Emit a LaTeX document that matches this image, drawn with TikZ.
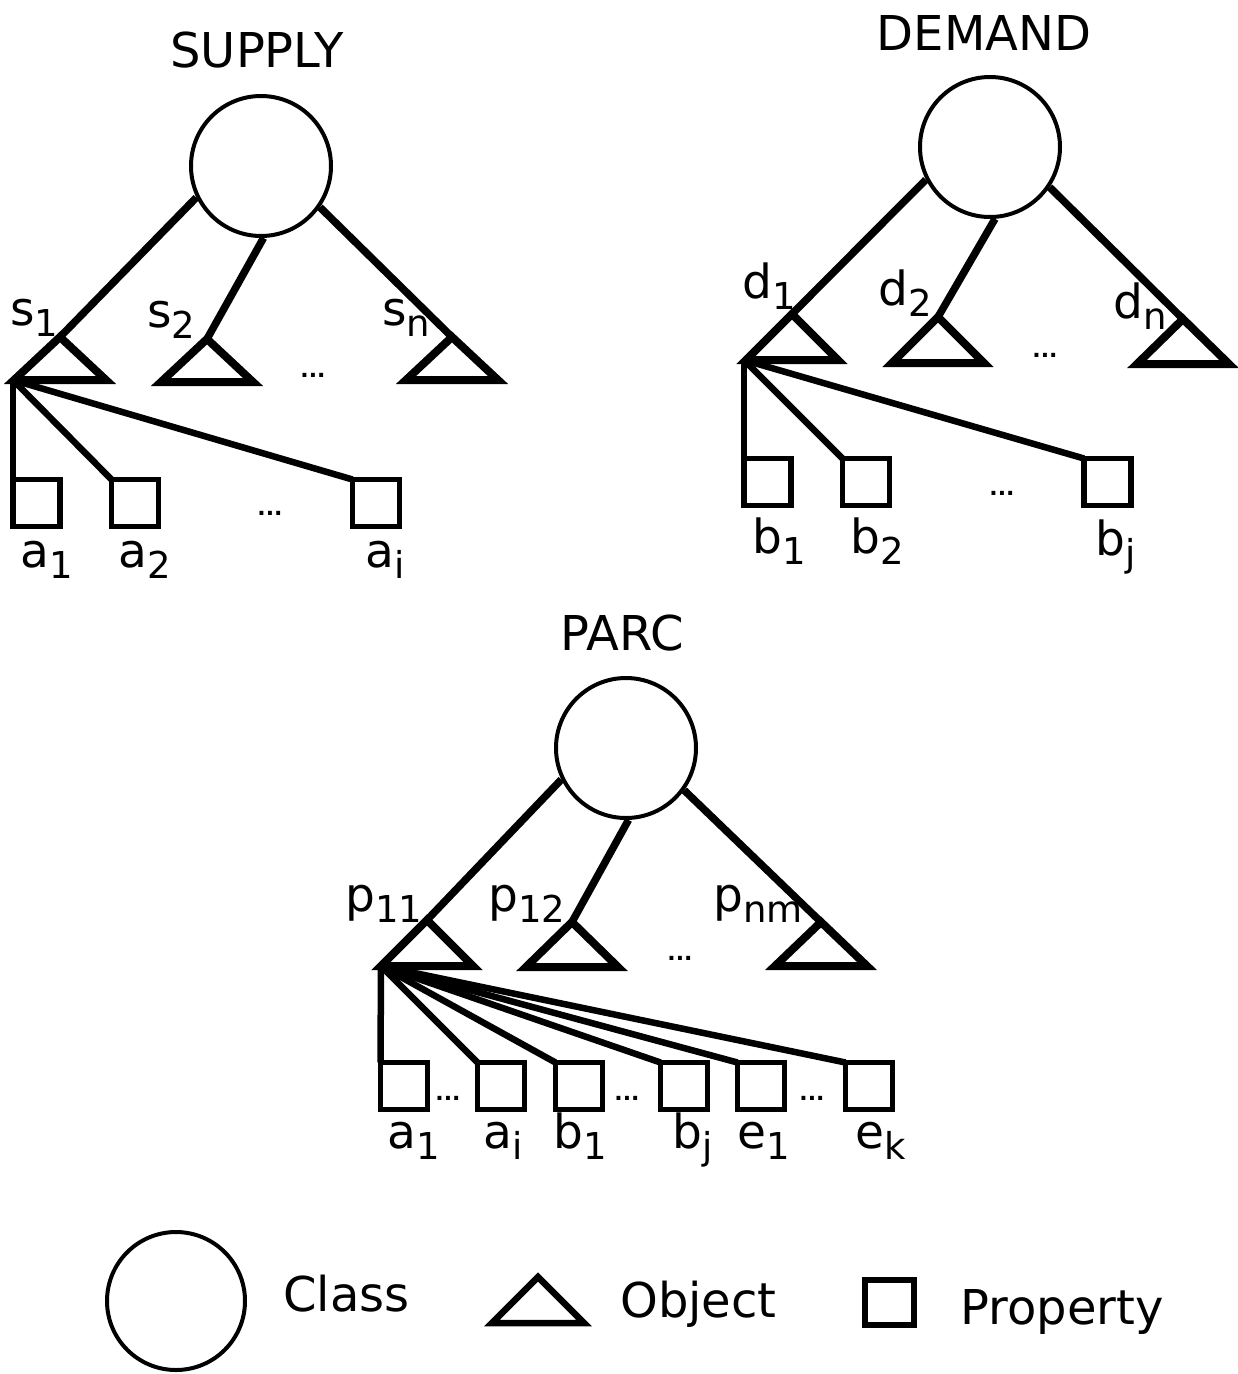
\documentclass[tikz,border=0pt]{standalone}
\usepackage{fontspec}
\setmainfont{DejaVu Sans}
\usepackage{tikz}
\tikzset{every picture/.style={line width=0.75pt}}
\newcommand{\sbs}[1]{\raisebox{-11pt}{\fontsize{37}{37}\selectfont #1}}

\begin{document}
\begin{tikzpicture}[x=1pt, y=-1pt,
        cls/.style={draw, circle, line width=4pt, minimum size=140pt, inner sep=0pt},
        prop/.style={draw, rectangle, line width=5.5pt, minimum size=47pt, inner sep=0pt, outer sep=0pt},
        tri/.style={line width=8pt},
        conn/.style={line width=7.5pt},
        fan/.style={line width=6.5pt},
        lbl/.style={anchor=base west, inner sep=0pt, font=\fontsize{47}{56}\selectfont},
        ttl/.style={anchor=base, inner sep=0pt, font=\fontsize{48}{58}\selectfont},
        ellip/.style={inner sep=0pt, font=\fontsize{22}{22}\selectfont\bfseries}]
        \useasboundingbox (0,0) rectangle (1238,1374);

        % supply
        \node[ttl] (supt) at (257,67) {SUPPLY};
        \node[cls] (sup) at (261,166) {};
        \coordinate (s1) at (60,337);
        \coordinate (s2) at (207,339);
        \coordinate (sn) at (452,337);
        \coordinate (s1f) at (13,380);
        \draw[tri] (s1) -- ++(46,43) -- ++(-92,0) -- cycle;
        \draw[tri] (s2) -- ++(46,43) -- ++(-92,0) -- cycle;
        \draw[tri] (sn) -- ++(46,43) -- ++(-92,0) -- cycle;
        \node[lbl] (s1l) at (10,325) {s\sbs{1}};
        \node[lbl] (s2l) at (147,327) {s\sbs{2}};
        \node[lbl] (snl) at (382,325) {s\sbs{n}};
        \node[ellip] (sdo) at (313,375) {...};
        \node[prop] (a1) at (36.5,503) {};
        \node[prop] (a2) at (135,503) {};
        \node[prop] (ai) at (376,503) {};
        \node[ellip] (sdp) at (270,513) {...};
        \node[lbl] (a1l) at (20,567) {a\sbs{1}};
        \node[lbl] (a2l) at (118,567) {a\sbs{2}};
        \node[lbl] (ail) at (365,567) {a\sbs{i}};

        \draw[conn]
            (sup.206) edge (s1)
            (sup.272) edge (s2)
            (sup.325) edge (sn)
            ;
        \draw[fan]
            (s1f) edge (a1.north west)
            (s1f) edge (a2.north west)
            (s1f) edge (ai.north west)
            ;

        % demand
        \node[ttl] (demt) at (984,50) {DEMAND};
        \node[cls] (dem) at (990,147) {};
        \coordinate (d1) at (792,314);
        \coordinate (d2) at (938,317);
        \coordinate (dn) at (1183,319);
        \coordinate (d1f) at (744,360);
        \draw[tri] (d1) -- ++(46,46) -- ++(-92,0) -- cycle;
        \draw[tri] (d2) -- ++(46,46) -- ++(-92,0) -- cycle;
        \draw[tri] (dn) -- ++(46,45) -- ++(-92,0) -- cycle;
        \node[lbl] (d1l) at (742,298) {d\sbs{1}};
        \node[lbl] (d2l) at (878,305) {d\sbs{2}};
        \node[lbl] (dnl) at (1113,318) {d\sbs{n}};
        \node[ellip] (ddo) at (1045,355) {...};
        \node[prop] (b1) at (767.5,482) {};
        \node[prop] (b2) at (866,482) {};
        \node[prop] (bj) at (1107.5,482) {};
        \node[ellip] (ddp) at (1002,493) {...};
        \node[lbl] (b1l) at (752,553) {b\sbs{1}};
        \node[lbl] (b2l) at (850,553) {b\sbs{2}};
        \node[lbl] (bjl) at (1095,555) {b\sbs{j}};

        \draw[conn]
            (dem.207) edge (d1)
            (dem.274) edge (d2)
            (dem.326) edge (dn)
            ;
        \draw[fan]
            (d1f) edge (b1.north west)
            (d1f) edge (b2.north west)
            (d1f) edge (bj.north west)
            ;

        % parc
        \node[ttl] (part) at (622,650) {PARC};
        \node[cls] (par) at (626,748) {};
        \coordinate (p11) at (427,920);
        \coordinate (p12) at (572,922);
        \coordinate (pnm) at (821,922);
        \coordinate (p11f) at (381,966);
        \draw[tri] (p11) -- ++(46,46) -- ++(-92,0) -- cycle;
        \draw[tri] (p12) -- ++(46,45) -- ++(-92,0) -- cycle;
        \draw[tri] (pnm) -- ++(46,44) -- ++(-92,0) -- cycle;
        \node[lbl] (p11l) at (345,911) {p\sbs{11}};
        \node[lbl] (p12l) at (488,911) {p\sbs{12}};
        \node[lbl] (pnml) at (713,911) {p\sbs{nm}};
        \node[ellip] (pdo) at (680,958) {...};
        \node[prop] (pa1) at (404,1086) {};
        \node[prop] (pai) at (501,1086) {};
        \node[prop] (pb1) at (579,1086) {};
        \node[prop] (pbj) at (684,1086) {};
        \node[prop] (pe1) at (761,1086) {};
        \node[prop] (pek) at (869,1086) {};
        \node[ellip] (pda) at (448,1098) {...};
        \node[ellip] (pdb) at (627,1098) {...};
        \node[ellip] (pde) at (812,1098) {...};
        \node[lbl] (pa1l) at (387,1148) {a\sbs{1}};
        \node[lbl] (pail) at (483,1148) {a\sbs{i}};
        \node[lbl] (pb1l) at (553,1148) {b\sbs{1}};
        \node[lbl] (pbjl) at (672,1148) {b\sbs{j}};
        \node[lbl] (pe1l) at (737,1148) {e\sbs{1}};
        \node[lbl] (pekl) at (855,1148) {e\sbs{k}};

        \draw[conn]
            (par.206) edge (p11)
            (par.272) edge (p12)
            (par.324) edge (pnm)
            ;
        \draw[fan]
            (p11f) edge (pa1.north west)
            (p11f) edge (pai.north west)
            (p11f) edge (pb1.north west)
            (p11f) edge (pbj.north west)
            (p11f) edge (pe1.north west)
            (p11f) edge (pek.north west)
            ;

        % legend
        \node[cls, minimum size=138pt] (lcls) at (176,1301) {};
        \node[lbl, font=\fontsize{48}{58}\selectfont] (lclst) at (283,1311) {Class};
        \coordinate (lobj) at (538,1277);
        \draw[tri, line width=6.5pt] (lobj) -- ++(46,46) -- ++(-92,0) -- cycle;
        \node[lbl, font=\fontsize{48}{58}\selectfont] (lobjt) at (620,1317) {Object};
        \node[prop, line width=6pt, minimum width=49pt, minimum height=45pt] (lprop) at (889.5,1302.5) {};
        \node[lbl, font=\fontsize{48}{58}\selectfont] (lpropt) at (960,1324) {Property};
\end{tikzpicture}
\end{document}
